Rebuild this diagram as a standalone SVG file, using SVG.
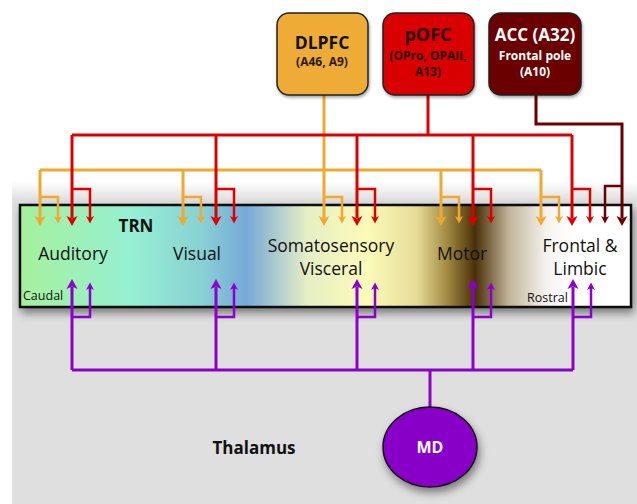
<svg xmlns="http://www.w3.org/2000/svg" width="637" height="504" viewBox="0 0 637 504">
<style>
text{font-family:"Open Sans","Liberation Sans",sans-serif;}
.lab{font-size:17.5px;fill:#111;text-anchor:middle;}
.small{font-size:12.5px;fill:#111;}
.b{font-weight:bold;}
.box{stroke:#222;stroke-width:1.5;}
.or{stroke:#f0a830;stroke-width:3;fill:none;}
.rd{stroke:#dd0000;stroke-width:3;fill:none;}
.dr{stroke:#6a0000;stroke-width:3;fill:none;}
.pu{stroke:#8c00cc;stroke-width:3;fill:none;}
.sub{stroke-width:2.5;}
</style>
<defs>
<linearGradient id="trnGrad" x1="0" y1="0" x2="1" y2="0">
<stop offset="0" stop-color="#a6f09c"/>
<stop offset="0.18" stop-color="#96f0d2"/>
<stop offset="0.3" stop-color="#88d0d4"/>
<stop offset="0.37" stop-color="#76a8d8"/>
<stop offset="0.47" stop-color="#e6efc4"/>
<stop offset="0.57" stop-color="#fbfab8"/>
<stop offset="0.65" stop-color="#e6dc98"/>
<stop offset="0.7" stop-color="#a08840"/>
<stop offset="0.745" stop-color="#4a3008"/>
<stop offset="0.8" stop-color="#c0b498"/>
<stop offset="0.86" stop-color="#f4f2ee"/>
<stop offset="0.9" stop-color="#ffffff"/>
<stop offset="1" stop-color="#ffffff"/>
</linearGradient>
<linearGradient id="fade" x1="0" y1="0" x2="0" y2="1">
<stop offset="0" stop-color="#ffffff"/>
<stop offset="1" stop-color="#dfdfdf"/>
</linearGradient>
<filter id="sh" x="-20%" y="-20%" width="140%" height="150%">
<feDropShadow dx="2" dy="5" stdDeviation="4" flood-color="#000" flood-opacity="0.45"/>
</filter>
<filter id="sh2" x="-20%" y="-20%" width="140%" height="140%">
<feDropShadow dx="1" dy="2" stdDeviation="1.5" flood-color="#000" flood-opacity="0.35"/>
</filter>
<marker id="aOrB" markerUnits="userSpaceOnUse" orient="auto" markerWidth="12" markerHeight="12" refX="2" refY="0" viewBox="0 -6 12 12" overflow="visible"><path d="M0,-5.5 L10,0 L0,5.5 L2.5,0 z" fill="#f0a830"/></marker>
<marker id="aOrS" markerUnits="userSpaceOnUse" orient="auto" markerWidth="10" markerHeight="10" refX="2" refY="0" viewBox="0 -5 10 10" overflow="visible"><path d="M0,-4 L7.5,0 L0,4 L2,0 z" fill="#f0a830"/></marker>
<marker id="aRdB" markerUnits="userSpaceOnUse" orient="auto" markerWidth="12" markerHeight="12" refX="2" refY="0" viewBox="0 -6 12 12" overflow="visible"><path d="M0,-5.5 L10,0 L0,5.5 L2.5,0 z" fill="#dd0000"/></marker>
<marker id="aRdS" markerUnits="userSpaceOnUse" orient="auto" markerWidth="10" markerHeight="10" refX="2" refY="0" viewBox="0 -5 10 10" overflow="visible"><path d="M0,-4 L7.5,0 L0,4 L2,0 z" fill="#dd0000"/></marker>
<marker id="aDrB" markerUnits="userSpaceOnUse" orient="auto" markerWidth="12" markerHeight="12" refX="2" refY="0" viewBox="0 -6 12 12" overflow="visible"><path d="M0,-5.5 L10,0 L0,5.5 L2.5,0 z" fill="#6a0000"/></marker>
<marker id="aDrS" markerUnits="userSpaceOnUse" orient="auto" markerWidth="10" markerHeight="10" refX="2" refY="0" viewBox="0 -5 10 10" overflow="visible"><path d="M0,-4 L7.5,0 L0,4 L2,0 z" fill="#6a0000"/></marker>
<marker id="aPuB" markerUnits="userSpaceOnUse" orient="auto" markerWidth="12" markerHeight="12" refX="2" refY="0" viewBox="0 -6 12 12" overflow="visible"><path d="M0,-5.5 L10,0 L0,5.5 L2.5,0 z" fill="#8c00cc"/></marker>
<marker id="aPuS" markerUnits="userSpaceOnUse" orient="auto" markerWidth="10" markerHeight="10" refX="2" refY="0" viewBox="0 -5 10 10" overflow="visible"><path d="M0,-4 L7.5,0 L0,4 L2,0 z" fill="#8c00cc"/></marker>
</defs>

<rect x="0" y="0" width="637" height="504" fill="#ffffff"/>
<g id="thalamus-bg">
<rect x="12" y="182" width="625" height="18" fill="url(#fade)"/>
<rect x="12" y="199" width="625" height="305" fill="#dfdfdf"/>
</g>

<g id="TRN">
<rect x="20" y="205" width="611" height="102" fill="url(#trnGrad)" stroke="#111" stroke-width="2.5" filter="url(#sh)"/>
<text x="136" y="232" class="lab b" style="font-size:17px">TRN</text>
<g id="auditory"><text x="73" y="260" class="lab">Auditory</text></g>
<g id="visual"><text x="197" y="260" class="lab">Visual</text></g>
<g id="somatosensory"><text x="331" y="252" class="lab">Somatosensory</text><text x="331" y="275" class="lab">Visceral</text></g>
<g id="motor"><text x="462" y="260" class="lab">Motor</text></g>
<g id="frontal"><text x="580" y="252" class="lab">Frontal &amp;</text><text x="580" y="275" class="lab">Limbic</text></g>
<text x="23" y="300" class="small">Caudal</text>
<text x="527" y="302" class="small">Rostral</text>
</g>

<g id="connectors">
<!-- DLPFC (orange) -->
<path class="or" d="M324,95 V218" marker-end="url(#aOrB)"/>
<path class="or" d="M40,170 H541"/>
<path class="or" d="M40,170 V218" marker-end="url(#aOrB)"/>
<path class="or" d="M183,170 V218" marker-end="url(#aOrB)"/>
<path class="or" d="M441,170 V218" marker-end="url(#aOrB)"/>
<path class="or" d="M541,170 V218" marker-end="url(#aOrB)"/>
<path class="or sub" d="M40,197 H58 V218" marker-end="url(#aOrS)"/>
<path class="or sub" d="M183,197 H201 V218" marker-end="url(#aOrS)"/>
<path class="or sub" d="M324,197 H342 V218" marker-end="url(#aOrS)"/>
<path class="or sub" d="M441,197 H459 V218" marker-end="url(#aOrS)"/>
<path class="or sub" d="M541,197 H559 V218" marker-end="url(#aOrS)"/>
<!-- pOFC (red) -->
<path class="rd" d="M428,95 V135"/>
<path class="rd" d="M72,135 H572"/>
<path class="rd" d="M72,135 V218" marker-end="url(#aRdB)"/>
<path class="rd" d="M216,135 V218" marker-end="url(#aRdB)"/>
<path class="rd" d="M357,135 V218" marker-end="url(#aRdB)"/>
<path class="rd" d="M473,135 V218" marker-end="url(#aRdB)"/>
<path class="rd" d="M572,135 V218" marker-end="url(#aRdB)"/>
<path class="rd sub" d="M72,189 H90 V218" marker-end="url(#aRdS)"/>
<path class="rd sub" d="M216,189 H234 V218" marker-end="url(#aRdS)"/>
<path class="rd sub" d="M357,189 H375 V218" marker-end="url(#aRdS)"/>
<path class="rd sub" d="M473,189 H491 V218" marker-end="url(#aRdS)"/>
<path class="rd sub" d="M572,189 H590 V218" marker-end="url(#aRdS)"/>
<!-- ACC (dark red) -->
<path class="dr" d="M536,95 V124 H622 V218" marker-end="url(#aDrB)"/>
<path class="dr sub" d="M622,186 H605 V218" marker-end="url(#aDrS)"/>
<!-- MD (purple) -->
<path class="pu" d="M430,407 V370"/>
<path class="pu" d="M72,370 H573"/>
<path class="pu" d="M72,370 V287" marker-end="url(#aPuB)"/>
<path class="pu" d="M216,370 V287" marker-end="url(#aPuB)"/>
<path class="pu" d="M357,370 V287" marker-end="url(#aPuB)"/>
<path class="pu" d="M473,370 V287" marker-end="url(#aPuB)"/>
<path class="pu" d="M573,370 V287" marker-end="url(#aPuB)"/>
<path class="pu sub" d="M72,317 H90 V288" marker-end="url(#aPuS)"/>
<path class="pu sub" d="M216,317 H234 V288" marker-end="url(#aPuS)"/>
<path class="pu sub" d="M357,317 H375 V288" marker-end="url(#aPuS)"/>
<path class="pu sub" d="M473,317 H491 V288" marker-end="url(#aPuS)"/>
<path class="pu sub" d="M573,317 H591 V288" marker-end="url(#aPuS)"/>
</g>

<g id="DLPFC">
<rect x="277" y="13" width="91" height="82" rx="12" fill="#eeab35" class="box" filter="url(#sh2)"/>
<text x="322" y="49" class="lab b" style="font-size:17.5px">DLPFC</text>
<text x="322" y="66" class="lab b" style="font-size:12px;fill:#2a1800">(A46, A9)</text>
</g>
<g id="pOFC">
<rect x="383" y="13" width="91" height="82" rx="12" fill="#d80000" class="box" filter="url(#sh2)"/>
<text x="428" y="41" class="lab b" style="font-size:18px;fill:#2a0000">pOFC</text>
<text x="428" y="60" class="lab b" style="font-size:12px;fill:#2a0000">(OPro, OPAII,</text>
<text x="428" y="76" class="lab b" style="font-size:12px;fill:#2a0000">A13)</text>
</g>
<g id="ACC">
<rect x="489" y="13" width="92" height="82" rx="12" fill="#6b0000" class="box" filter="url(#sh2)"/>
<text x="535" y="41" class="lab b" style="font-size:17px;fill:#fff">ACC (A32)</text>
<text x="535" y="59.5" class="lab b" style="font-size:12px;fill:#fff">Frontal pole</text>
<text x="535" y="76" class="lab b" style="font-size:12px;fill:#fff">(A10)</text>
</g>
<g id="MD">
<ellipse cx="430" cy="447" rx="47" ry="40" fill="#8800c8" stroke="#111" stroke-width="1.5" filter="url(#sh)"/>
<text x="430" y="453" class="lab b" style="font-size:16px;fill:#fff">MD</text>
</g>
<g id="thalamus-label">
<text x="254" y="454" class="lab b" style="font-size:17px">Thalamus</text>
</g>
</svg>
